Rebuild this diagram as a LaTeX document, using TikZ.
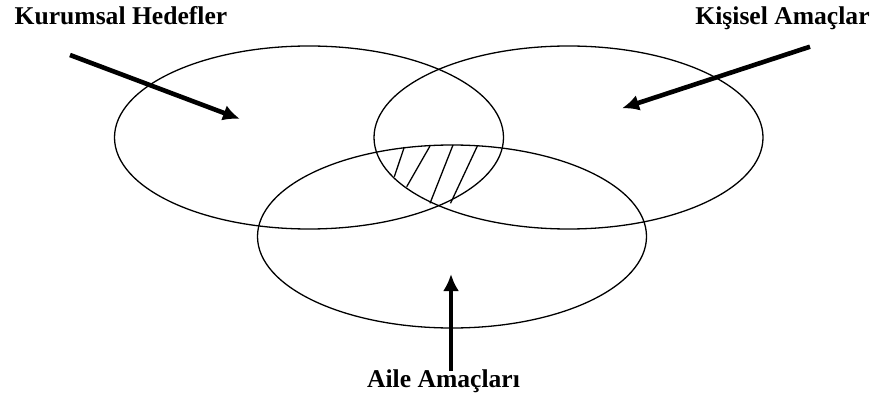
\documentclass[tikz,border=0pt]{standalone}
\usepackage{fontspec}
\setmainfont{Liberation Serif}
\usetikzlibrary{arrows.meta,shapes.geometric}
\begin{document}
\begin{tikzpicture}[x=1pt,y=-1pt,
  setellipse/.style={ellipse,draw,line width=1.3pt,minimum width=389pt,minimum height=183pt,inner sep=0pt},
  lbl/.style={font=\fontsize{25.6}{28}\selectfont\bfseries,anchor=base,inner sep=0pt},
  bigarrow/.style={line width=4.6pt,-{Latex[length=17pt,width=16pt]}},
  hatch/.style={line width=1.3pt}]
\useasboundingbox (0,0) rectangle (877,398);
\fill[white] (0,0) rectangle (877,398);
% sets
\node[setellipse] (kur) at (309,137.5) {};
\node[setellipse] (kis) at (568.5,137.5) {};
\node[setellipse] (ail) at (452,236.5) {};
% hatching of the common area
\draw[hatch] (404.3,147) -- (394.3,176.7);
\draw[hatch] (430,146) -- (406.7,186.7);
\draw[hatch] (453,145) -- (430,203.3);
\draw[hatch] (477.5,145.7) -- (450.5,203.3);
% labels
\node[lbl] (tkur) at (121,25) {Kurumsal Hedefler};
\node[lbl] (tkis) at (782.5,25) {Kişisel Amaçlar};
\node[lbl] (tail) at (443.5,387) {Aile Amaçları};
% arrow ends
\coordinate (kurS) at (70,55);
\coordinate (kurE) at (240,119);
\coordinate (kisS) at (810,46.7);
\coordinate (kisE) at (622,108.3);
\coordinate (ailS) at (451,371);
\coordinate (ailE) at (451,274);
\draw[bigarrow] (kurS) -- (kurE);
\draw[bigarrow] (kisS) -- (kisE);
\draw[bigarrow] (ailS) -- (ailE);
\end{tikzpicture}
\end{document}
